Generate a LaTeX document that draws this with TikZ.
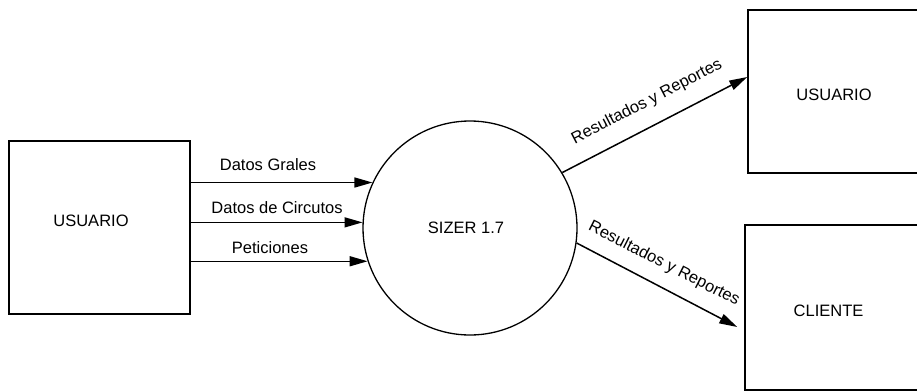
\documentclass[tikz,border=0pt]{standalone}
\usepackage{fontspec}
\setmainfont{Liberation Sans}
\usetikzlibrary{arrows.meta}
\newcommand\dfdfont{\fontsize{16.5}{19}\selectfont}
\begin{document}
\begin{tikzpicture}[x=1pt,y=-1pt,
  box/.style={draw, line width=1.5pt, rectangle, inner sep=0pt},
  proc/.style={draw, line width=1.3pt, circle, inner sep=0pt, minimum size=214pt},
  txt/.style={font=\dfdfont, inner sep=0pt},
  lbl/.style={font=\dfdfont, inner sep=0pt},
  arr/.style={line width=1.5pt, -{Triangle[length=18pt,width=10pt]}}
]
\useasboundingbox (0,0) rectangle (917,391);
\clip (0,0) rectangle (917,391);
% boxes
\node[box, minimum width=181pt, minimum height=173pt] (L) at (99.5,227.5) {};
\node[box, minimum width=171pt, minimum height=163pt] (T) at (833.5,91.5) {};
\node[box, minimum width=175pt, minimum height=165pt] (K) at (832.5,307.5) {};
\node[proc] (C) at (470,228) {};
% texts
\node[txt] (Lt) at (91,221) {USUARIO};
\node[txt] (Tt) at (834,95) {USUARIO};
\node[txt] (Kt) at (828.5,310.5) {CLIENTE};
\node[txt] (Ct) at (466,227.5) {SIZER 1.7};
% input flows
\draw[arr] (L.east |- C.155) -- (C.155);
\draw[arr] (L.east |- C.177) -- (C.177);
\draw[arr] (L.east |- C.198.5) -- (C.198.5);
\node[lbl] (l1) at (268,165) {Datos Grales};
\node[lbl] (l2) at (277,208) {Datos de Circutos};
\node[lbl] (l3) at (270,248) {Peticiones};
% output flows
\coordinate (Tin) at ([yshift=14.5pt]T.west);
\coordinate (Kin) at ([xshift=-7pt,yshift=-19.5pt]K.west);
\draw[arr] (C.31) -- (Tin);
\draw[arr] (C.-8) -- (Kin);
\node[lbl, rotate=27.4] (l4) at (647,102) {Resultados y Reportes};
\node[lbl, rotate=-27] (l5) at (664,264) {Resultados y Reportes};
\end{tikzpicture}
\end{document}
